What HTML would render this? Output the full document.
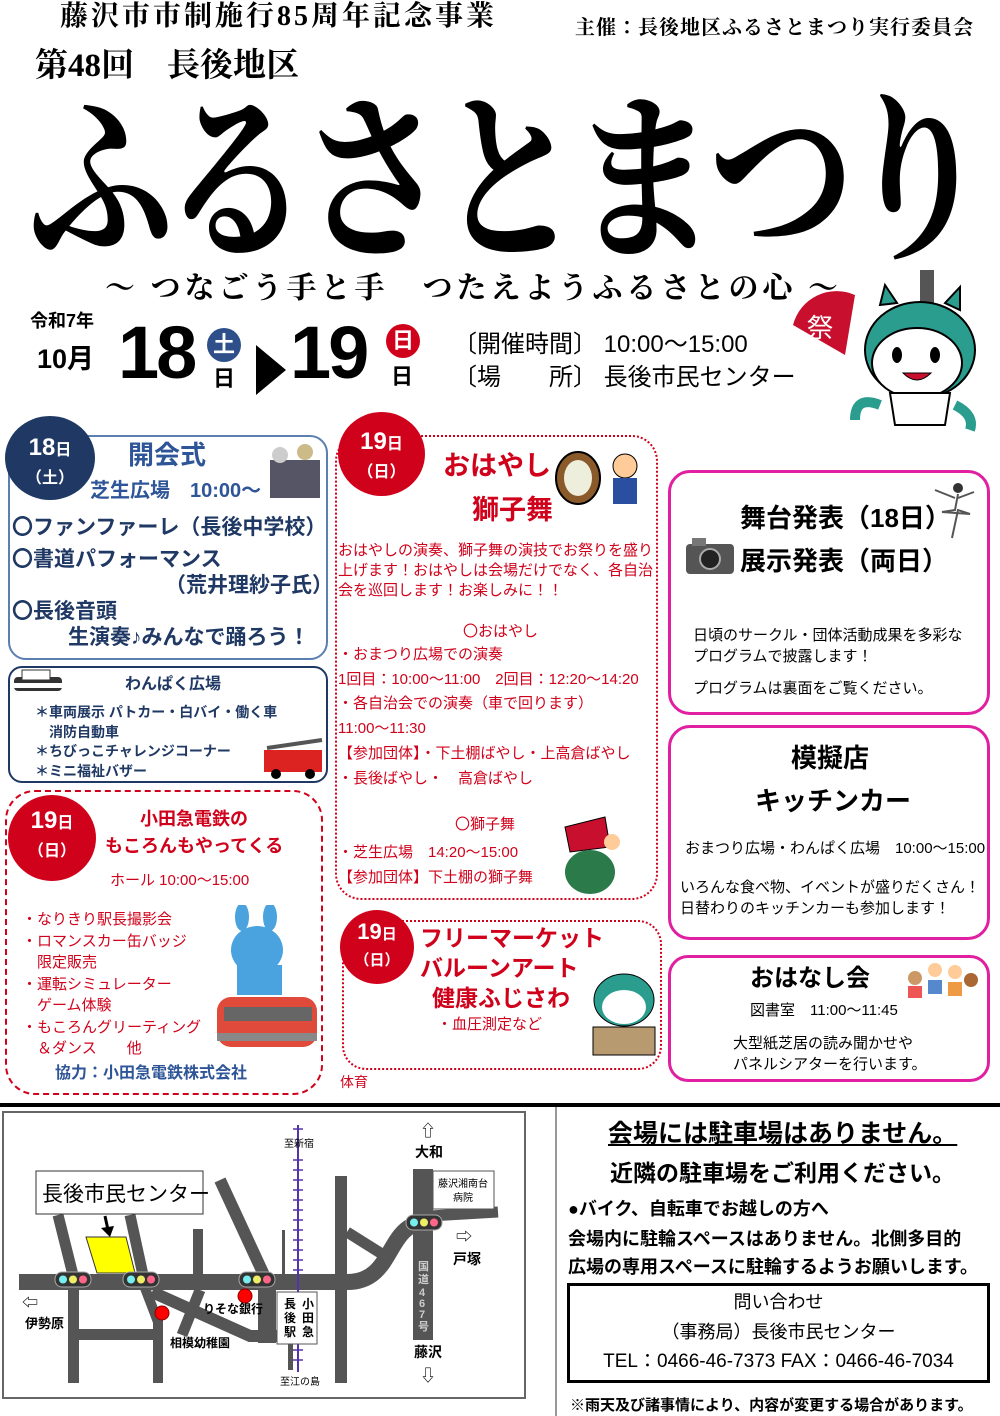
<!DOCTYPE html>
<html><head><meta charset="utf-8">
<style>
*{margin:0;padding:0;box-sizing:border-box}
body{width:1000px;height:1416px;position:relative;background:#fff;font-family:"Liberation Sans","Noto Sans CJK JP",sans-serif;overflow:hidden;color:#000}
.a{position:absolute;white-space:nowrap;line-height:1}
.b{font-weight:bold}
.serif{font-family:"Liberation Serif","Noto Serif CJK JP",serif}
.navy{color:#1f3864}.blue{color:#2e5597}.red{color:#d0021b}
.circ{position:absolute;border-radius:50%;color:#fff;text-align:center;font-weight:bold}
.box{position:absolute;border-radius:18px}
</style></head><body>

<div class="a b serif" style="left:60px;top:3px;font-size:28px;letter-spacing:3px">藤沢市市制施行85周年記念事業</div>
<div class="a serif b" style="left:575px;top:18px;font-size:20px;letter-spacing:1px">主催：長後地区ふるさとまつり実行委員会</div>
<div class="a b serif" style="left:35px;top:50px;font-size:33px">第48回　長後地区</div>
<div class="a serif" style="left:28px;top:92px;font-size:146px;font-weight:700;letter-spacing:-10px;transform:scaleY(1.25);transform-origin:0 0">ふるさとまつり</div>
<div class="a b serif" style="left:105px;top:274px;font-size:30px;letter-spacing:4px">～ つなごう手と手　つたえようふるさとの心 ～</div>

<div class="a b" style="left:30px;top:312px;font-size:18px">令和7年</div>
<div class="a b" style="left:37px;top:346px;font-size:27px">10月</div>
<div class="a b" style="left:118px;top:316px;font-size:74px;letter-spacing:-3px">18</div>
<div class="circ" style="left:207px;top:328px;width:34px;height:34px;background:#2e4f8a;font-size:22px;line-height:34px">土</div>
<div class="a b" style="left:213px;top:368px;font-size:22px">日</div>
<div class="a" style="left:256px;top:345px;width:0;height:0;border-top:25px solid transparent;border-bottom:25px solid transparent;border-left:30px solid #000"></div>
<div class="a b" style="left:290px;top:316px;font-size:74px;letter-spacing:-3px">19</div>
<div class="circ" style="left:386px;top:324px;width:34px;height:34px;background:#d0021b;font-size:22px;line-height:34px">日</div>
<div class="a b" style="left:391px;top:366px;font-size:22px">日</div>
<div class="a" style="left:453px;top:333px;font-size:24px">〔開催時間〕 10:00～15:00</div>
<div class="a" style="left:453px;top:366px;font-size:24px">〔場　　所〕 長後市民センター</div>

<!-- mascot -->
<svg class="a" style="left:785px;top:265px" width="195" height="175" viewBox="0 0 195 175">
<path d="M8 60 A45 45 0 0 1 70 30 L60 90 Z" fill="#c8102e"/>
<text x="22" y="72" font-size="26" fill="#fff" font-family="Noto Sans CJK JP">祭</text>
<rect x="135" y="5" width="14" height="35" fill="#555"/>
<path d="M95 40 L100 20 L112 38 Z M160 38 L175 22 L175 45 Z" fill="#2a9d8f" stroke="#000" stroke-width="2"/>
<ellipse cx="135" cy="85" rx="55" ry="48" fill="#2a9d8f" stroke="#000" stroke-width="2"/>
<ellipse cx="132" cy="98" rx="45" ry="35" fill="#fff" stroke="#000" stroke-width="2"/>
<ellipse cx="112" cy="90" rx="5" ry="8"/><ellipse cx="150" cy="90" rx="5" ry="8"/>
<path d="M118 108 Q132 122 146 108 Z" fill="#c8102e" stroke="#000"/>
<path d="M105 128 L165 128 L160 160 L110 160 Z" fill="#fff" stroke="#000" stroke-width="2"/>
<path d="M95 140 Q70 130 70 155 M170 140 Q190 150 185 165" stroke="#2a9d8f" stroke-width="10" fill="none"/>
</svg>

<!-- Box 18 opening -->
<div class="box" style="left:8px;top:435px;width:320px;height:225px;border:2px solid #5a7fb0"></div>
<div class="circ" style="left:5px;top:416px;width:90px;height:84px;background:#1f3864;font-size:24px;padding-top:18px">18<span style="font-size:16px">日</span><br><span style="font-size:16px">（土）</span></div>
<div class="a b blue" style="left:128px;top:442px;font-size:26px">開会式</div>
<div class="a b blue" style="left:90px;top:481px;font-size:20px">芝生広場　10:00～</div>
<svg class="a" style="left:265px;top:440px" width="60" height="60"><rect x="5" y="20" width="50" height="38" fill="#556"/><circle cx="15" cy="15" r="8" fill="#ccc"/><circle cx="40" cy="12" r="8" fill="#cb8"/></svg>
<div class="a b navy" style="left:12px;top:517px;font-size:21px">〇ファンファーレ（長後中学校）</div>
<div class="a b navy" style="left:12px;top:549px;font-size:21px">〇書道パフォーマンス</div>
<div class="a b navy" style="left:165px;top:575px;font-size:21px">（荒井理紗子氏）</div>
<div class="a b navy" style="left:12px;top:601px;font-size:21px">〇長後音頭</div>
<div class="a b navy" style="left:68px;top:627px;font-size:21px">生演奏♪みんなで踊ろう！</div>

<!-- wanpaku -->
<div class="box" style="left:8px;top:666px;width:320px;height:117px;border:2px solid #1f3864;border-radius:14px"></div>
<svg class="a" style="left:12px;top:665px" width="52" height="32"><rect x="2" y="12" width="48" height="14" rx="4" fill="#333"/><rect x="10" y="5" width="28" height="10" fill="#fff" stroke="#333"/><rect x="2" y="18" width="48" height="5" fill="#fff"/></svg>
<div class="a b navy" style="left:125px;top:677px;font-size:16px">わんぱく広場</div>
<div class="a b navy" style="left:35px;top:703px;font-size:14px;line-height:19.5px">＊車両展示 パトカー・白バイ・働く車<br>　消防自動車<br>＊ちびっこチャレンジコーナー<br>＊ミニ福祉バザー</div>
<svg class="a" style="left:262px;top:738px" width="64" height="42"><rect x="2" y="12" width="58" height="22" fill="#d22"/><line x1="5" y1="10" x2="60" y2="2" stroke="#555" stroke-width="4"/><circle cx="14" cy="36" r="5"/><circle cx="48" cy="36" r="5"/></svg>

<!-- odakyu -->
<div class="box" style="left:5px;top:790px;width:318px;height:305px;border:2px dashed #d0021b;border-radius:30px"></div>
<div class="circ" style="left:8px;top:795px;width:88px;height:86px;background:#d0021b;font-size:24px;padding-top:12px">19<span style="font-size:16px">日</span><br><span style="font-size:16px">（日）</span></div>
<div class="a b red" style="left:140px;top:810px;font-size:18px">小田急電鉄の</div>
<div class="a b red" style="left:105px;top:837px;font-size:18px">もころんもやってくる</div>
<div class="a red" style="left:110px;top:873px;font-size:15px">ホール 10:00～15:00</div>
<div class="a red" style="left:22px;top:909px;font-size:15px;line-height:21.5px">・なりきり駅長撮影会<br>・ロマンスカー缶バッジ<br>　限定販売<br>・運転シミュレーター<br>　ゲーム体験<br>・もころんグリーティング<br>　＆ダンス　　他</div>
<svg class="a" style="left:212px;top:905px" width="108" height="152"><ellipse cx="45" cy="45" rx="26" ry="24" fill="#4aa3df"/><ellipse cx="30" cy="12" rx="7" ry="14" fill="#4aa3df"/><ellipse cx="58" cy="12" rx="7" ry="14" fill="#4aa3df"/><rect x="25" y="60" width="45" height="30" fill="#4aa3df"/><rect x="5" y="92" width="100" height="50" rx="14" fill="#e04a3a"/><rect x="12" y="102" width="88" height="14" fill="#666"/><rect x="5" y="128" width="100" height="8" fill="#888"/></svg>
<div class="a b blue" style="left:55px;top:1066px;font-size:16px">協力：小田急電鉄株式会社</div>

<!-- ohayashi -->
<div class="box" style="left:335px;top:435px;width:323px;height:465px;border:2px dotted #d0021b;border-radius:26px"></div>
<div class="circ" style="left:338px;top:412px;width:87px;height:84px;background:#d0021b;font-size:24px;padding-top:16px">19<span style="font-size:16px">日</span><br><span style="font-size:16px">（日）</span></div>
<div class="a b red" style="left:443px;top:453px;font-size:27px">おはやし</div>
<div class="a b red" style="left:472px;top:497px;font-size:27px">獅子舞</div>
<svg class="a" style="left:553px;top:448px" width="100" height="68"><ellipse cx="25" cy="30" rx="22" ry="26" fill="#8b5a2b" stroke="#000" stroke-width="2"/><ellipse cx="25" cy="30" rx="14" ry="18" fill="#eed"/><circle cx="72" cy="18" r="12" fill="#fc9" stroke="#000"/><rect x="60" y="30" width="24" height="26" fill="#2a4fa0"/></svg>
<div class="a red" style="left:338px;top:541px;font-size:15px;line-height:20px">おはやしの演奏、獅子舞の演技でお祭りを盛り<br>上げます！おはやしは会場だけでなく、各自治<br>会を巡回します！お楽しみに！！</div>
<div class="a red" style="left:463px;top:624px;font-size:15px">〇おはやし</div>
<div class="a red" style="left:338px;top:643px;font-size:15px;line-height:24.7px">・おまつり広場での演奏<br>1回目：10:00～11:00　2回目：12:20～14:20<br>・各自治会での演奏（車で回ります）<br>11:00～11:30<br>【参加団体】・下土棚ばやし・上高倉ばやし<br>・長後ばやし・　高倉ばやし</div>
<div class="a red" style="left:455px;top:817px;font-size:15px">〇獅子舞</div>
<div class="a red" style="left:338px;top:841px;font-size:15px;line-height:24.5px">・芝生広場　14:20～15:00<br>【参加団体】下土棚の獅子舞</div>
<svg class="a" style="left:560px;top:812px" width="65" height="85"><path d="M5 15 L45 5 L50 35 L10 40 Z" fill="#c8102e" stroke="#000"/><ellipse cx="30" cy="60" rx="25" ry="22" fill="#2a7a4a"/><circle cx="52" cy="30" r="8" fill="#fc9"/></svg>

<!-- flea market -->
<div class="box" style="left:342px;top:920px;width:320px;height:150px;border:2px dotted #d0021b;border-radius:24px"></div>
<div class="circ" style="left:340px;top:910px;width:74px;height:74px;background:#d0021b;font-size:22px;padding-top:9px">19<span style="font-size:15px">日</span><br><span style="font-size:15px">（日）</span></div>
<div class="a b red" style="left:420px;top:927px;font-size:23px">フリーマーケット</div>
<div class="a b red" style="left:420px;top:957px;font-size:23px">バルーンアート</div>
<div class="a b red" style="left:432px;top:987px;font-size:23px">健康ふじさわ</div>
<div class="a red" style="left:437px;top:1017px;font-size:15px">・血圧測定など</div>
<svg class="a" style="left:588px;top:965px" width="72" height="92"><ellipse cx="36" cy="35" rx="30" ry="26" fill="#2a9d8f" stroke="#000"/><ellipse cx="36" cy="42" rx="22" ry="17" fill="#fff"/><rect x="5" y="62" width="62" height="28" fill="#b89a70" stroke="#000"/></svg>
<div class="a red" style="left:340px;top:1075px;font-size:14px">体育</div>

<!-- right boxes -->
<div class="box" style="left:668px;top:470px;width:322px;height:245px;border:3px solid #e020a0;border-radius:22px"></div>
<div class="a b" style="left:740px;top:505px;font-size:26px">舞台発表（18日）</div>
<div class="a b" style="left:740px;top:548px;font-size:26px">展示発表（両日）</div>
<svg class="a" style="left:684px;top:534px" width="52" height="42"><rect x="2" y="10" width="48" height="30" rx="4" fill="#555"/><circle cx="26" cy="25" r="10" fill="#222" stroke="#aaa" stroke-width="2"/><rect x="8" y="4" width="14" height="8" fill="#777"/></svg>
<svg class="a" style="left:930px;top:480px" width="46" height="60"><circle cx="28" cy="8" r="5" fill="#333"/><path d="M28 14 L25 30 L12 32 L40 34 L28 30 L22 58 M25 18 L5 10 M28 18 L44 12" stroke="#555" stroke-width="2" fill="none"/></svg>
<div class="a" style="left:693px;top:625px;font-size:15px;line-height:21px">日頃のサークル・団体活動成果を多彩な<br>プログラムで披露します！</div>
<div class="a" style="left:693px;top:681px;font-size:15px">プログラムは裏面をご覧ください。</div>

<div class="box" style="left:668px;top:725px;width:322px;height:215px;border:3px solid #e020a0;border-radius:22px"></div>
<div class="a b" style="left:791px;top:745px;font-size:26px">模擬店</div>
<div class="a b" style="left:755px;top:788px;font-size:26px">キッチンカー</div>
<div class="a" style="left:685px;top:841px;font-size:15px">おまつり広場・わんぱく広場　10:00～15:00</div>
<div class="a" style="left:680px;top:877px;font-size:15px;line-height:21px">いろんな食べ物、イベントが盛りだくさん！<br>日替わりのキッチンカーも参加します！</div>

<div class="box" style="left:668px;top:955px;width:322px;height:127px;border:3px solid #e020a0;border-radius:20px"></div>
<div class="a b" style="left:750px;top:967px;font-size:24px">おはなし会</div>
<svg class="a" style="left:903px;top:958px" width="78" height="44"><circle cx="12" cy="20" r="7" fill="#c96"/><circle cx="32" cy="12" r="7" fill="#fc9"/><circle cx="52" cy="14" r="7" fill="#fc9"/><circle cx="68" cy="22" r="7" fill="#a63"/><rect x="5" y="28" width="14" height="12" fill="#e55"/><rect x="25" y="22" width="14" height="14" fill="#58c"/><rect x="45" y="24" width="14" height="14" fill="#e94"/></svg>
<div class="a" style="left:750px;top:1003px;font-size:15px">図書室　11:00～11:45</div>
<div class="a" style="left:733px;top:1033px;font-size:15px;line-height:21px">大型紙芝居の読み聞かせや<br>パネルシアターを行います。</div>

<!-- divider -->
<div class="a" style="left:0;top:1103px;width:1000px;height:4px;background:#000"></div>
<div class="a" style="left:555px;top:1107px;width:2px;height:309px;background:#999"></div>

<!-- map -->
<svg class="a" style="left:0;top:0" width="560" height="1416" font-family="Liberation Sans,Noto Sans CJK JP,sans-serif">
<rect x="3" y="1112" width="522" height="286" fill="#fff" stroke="#666" stroke-width="2"/>
<g fill="#555" stroke="none">
<rect x="19" y="1274" width="330" height="16"/>
<rect x="68" y="1288" width="11" height="95"/>
<rect x="68" y="1329" width="95" height="11"/>
<rect x="153" y="1318" width="10" height="65"/>
<rect x="193" y="1229" width="10" height="46"/>
<rect x="282" y="1230" width="3" height="45"/>
<rect x="335" y="1176" width="12" height="207"/>
<rect x="413" y="1169" width="20" height="171"/>
<rect x="258" y="1288" width="18" height="55"/>
<rect x="288" y="1340" width="5" height="30"/>
</g>
<g stroke="#555" fill="none">
<path d="M347 1282 C395 1282 385 1225 425 1222" stroke-width="16"/>
<path d="M430 1216 L498 1212" stroke-width="11"/>
<path d="M347 1232 L382 1254" stroke-width="11"/>
<path d="M58 1215 L73 1275" stroke-width="11"/>
<path d="M130 1215 L143 1275" stroke-width="11"/>
<path d="M220 1180 L264 1275" stroke-width="12"/>
<path d="M145 1288 L158 1322" stroke-width="10"/>
<path d="M152 1292 L250 1336 L278 1336" stroke-width="12"/>
<path d="M200 1290 L182 1335" stroke-width="11"/>
</g>
<polygon points="86,1237 126,1237 135,1273 97,1273" fill="#ffff00" stroke="#333"/>
<line x1="298" y1="1125" x2="298" y2="1372" stroke="#5533aa" stroke-width="2"/>
<g stroke="#5533aa" stroke-width="1.5">
<line x1="293" y1="1129" x2="303" y2="1129"/><line x1="293" y1="1160" x2="303" y2="1160"/><line x1="293" y1="1170" x2="303" y2="1170"/><line x1="293" y1="1180" x2="303" y2="1180"/><line x1="293" y1="1190" x2="303" y2="1190"/><line x1="293" y1="1200" x2="303" y2="1200"/><line x1="293" y1="1210" x2="303" y2="1210"/><line x1="293" y1="1220" x2="303" y2="1220"/><line x1="293" y1="1230" x2="303" y2="1230"/><line x1="293" y1="1240" x2="303" y2="1240"/><line x1="293" y1="1250" x2="303" y2="1250"/><line x1="293" y1="1260" x2="303" y2="1260"/><line x1="293" y1="1270" x2="303" y2="1270"/><line x1="293" y1="1350" x2="303" y2="1350"/><line x1="293" y1="1360" x2="303" y2="1360"/></g>
<rect x="277" y="1292" width="40" height="52" fill="#fff" stroke="#555"/>
<text font-size="12" font-weight="bold" x="302" y="1308">小</text><text font-size="12" font-weight="bold" x="302" y="1322">田</text><text font-size="12" font-weight="bold" x="302" y="1336">急</text>
<text font-size="12" font-weight="bold" x="284" y="1308">長</text><text font-size="12" font-weight="bold" x="284" y="1322">後</text><text font-size="12" font-weight="bold" x="284" y="1336">駅</text>
<rect x="36" y="1171" width="167" height="43" fill="#fff" stroke="#333"/>
<text x="42" y="1201" font-size="21">長後市民センター</text>
<path d="M105 1216 L108 1230" stroke="#000" stroke-width="3"/><polygon points="101,1228 114,1226 110,1237" fill="#000"/>
<rect x="433" y="1171" width="61" height="38" fill="#fff" stroke="#555"/>
<text x="438" y="1187" font-size="10">藤沢湘南台</text><text x="453" y="1201" font-size="10">病院</text>
<g>
<g transform="translate(55,1272)"><rect width="36" height="15" rx="7" fill="#333" stroke="#aaa"/><circle cx="8" cy="7.5" r="4" fill="#7ee"/><circle cx="18" cy="7.5" r="4" fill="#ee6"/><circle cx="28" cy="7.5" r="4" fill="#f68"/></g>
<g transform="translate(123,1272)"><rect width="36" height="15" rx="7" fill="#333" stroke="#aaa"/><circle cx="8" cy="7.5" r="4" fill="#7ee"/><circle cx="18" cy="7.5" r="4" fill="#ee6"/><circle cx="28" cy="7.5" r="4" fill="#f68"/></g>
<g transform="translate(239,1272)"><rect width="36" height="15" rx="7" fill="#333" stroke="#aaa"/><circle cx="8" cy="7.5" r="4" fill="#7ee"/><circle cx="18" cy="7.5" r="4" fill="#ee6"/><circle cx="28" cy="7.5" r="4" fill="#f68"/></g>
<g transform="translate(406,1215)"><rect width="36" height="15" rx="7" fill="#333" stroke="#aaa"/><circle cx="8" cy="7.5" r="4" fill="#7ee"/><circle cx="18" cy="7.5" r="4" fill="#ee6"/><circle cx="28" cy="7.5" r="4" fill="#f68"/></g>
</g>
<circle cx="162" cy="1313" r="7" fill="#f00" stroke="#800"/><circle cx="245" cy="1296" r="7" fill="#f00" stroke="#800"/>
<text x="284" y="1147" font-size="10">至新宿</text>
<text x="280" y="1385" font-size="10">至江の島</text>
<text x="420" y="1136" font-size="16">⇧</text><text x="415" y="1157" font-size="14" font-weight="bold">大和</text>
<text x="456" y="1242" font-size="16">⇨</text><text x="453" y="1264" font-size="14" font-weight="bold">戸塚</text>
<text x="22" y="1308" font-size="16">⇦</text><text x="25" y="1328" font-size="13" font-weight="bold">伊勢原</text>
<text x="203" y="1313" font-size="12" font-weight="bold">りそな銀行</text>
<text x="170" y="1347" font-size="12" font-weight="bold">相模幼稚園</text>
<text x="414" y="1357" font-size="14" font-weight="bold">藤沢</text><text x="420" y="1381" font-size="16">⇩</text>
<g font-size="11" fill="#ccc" font-weight="bold"><text x="418" y="1270">国</text><text x="418" y="1283">道</text><text x="419" y="1296">4</text><text x="419" y="1307">6</text><text x="419" y="1318">7</text><text x="418" y="1330">号</text></g>
</svg>

<!-- bottom right -->
<div class="a b" style="left:608px;top:1122px;font-size:25px;text-decoration:underline">会場には駐車場はありません。</div>
<div class="a b" style="left:610px;top:1162px;font-size:23px">近隣の駐車場をご利用ください。</div>
<div class="a b" style="left:568px;top:1200px;font-size:18px">●バイク、自転車でお越しの方へ</div>
<div class="a b" style="left:568px;top:1230px;font-size:18px">会場内に駐輪スペースはありません。北側多目的</div>
<div class="a b" style="left:568px;top:1258px;font-size:18px">広場の専用スペースに駐輪するようお願いします。</div>
<div class="a" style="left:567px;top:1283px;width:423px;height:100px;border:3px solid #000"></div>
<div class="a" style="left:567px;top:1293px;width:423px;text-align:center;font-size:18px">問い合わせ</div>
<div class="a" style="left:567px;top:1323px;width:423px;text-align:center;font-size:18px">（事務局）長後市民センター</div>
<div class="a" style="left:567px;top:1352px;width:423px;text-align:center;font-size:19px">TEL：0466-46-7373 FAX：0466-46-7034</div>
<div class="a b" style="left:570px;top:1398px;font-size:15px">※雨天及び諸事情により、内容が変更する場合があります。</div>
</body></html>
